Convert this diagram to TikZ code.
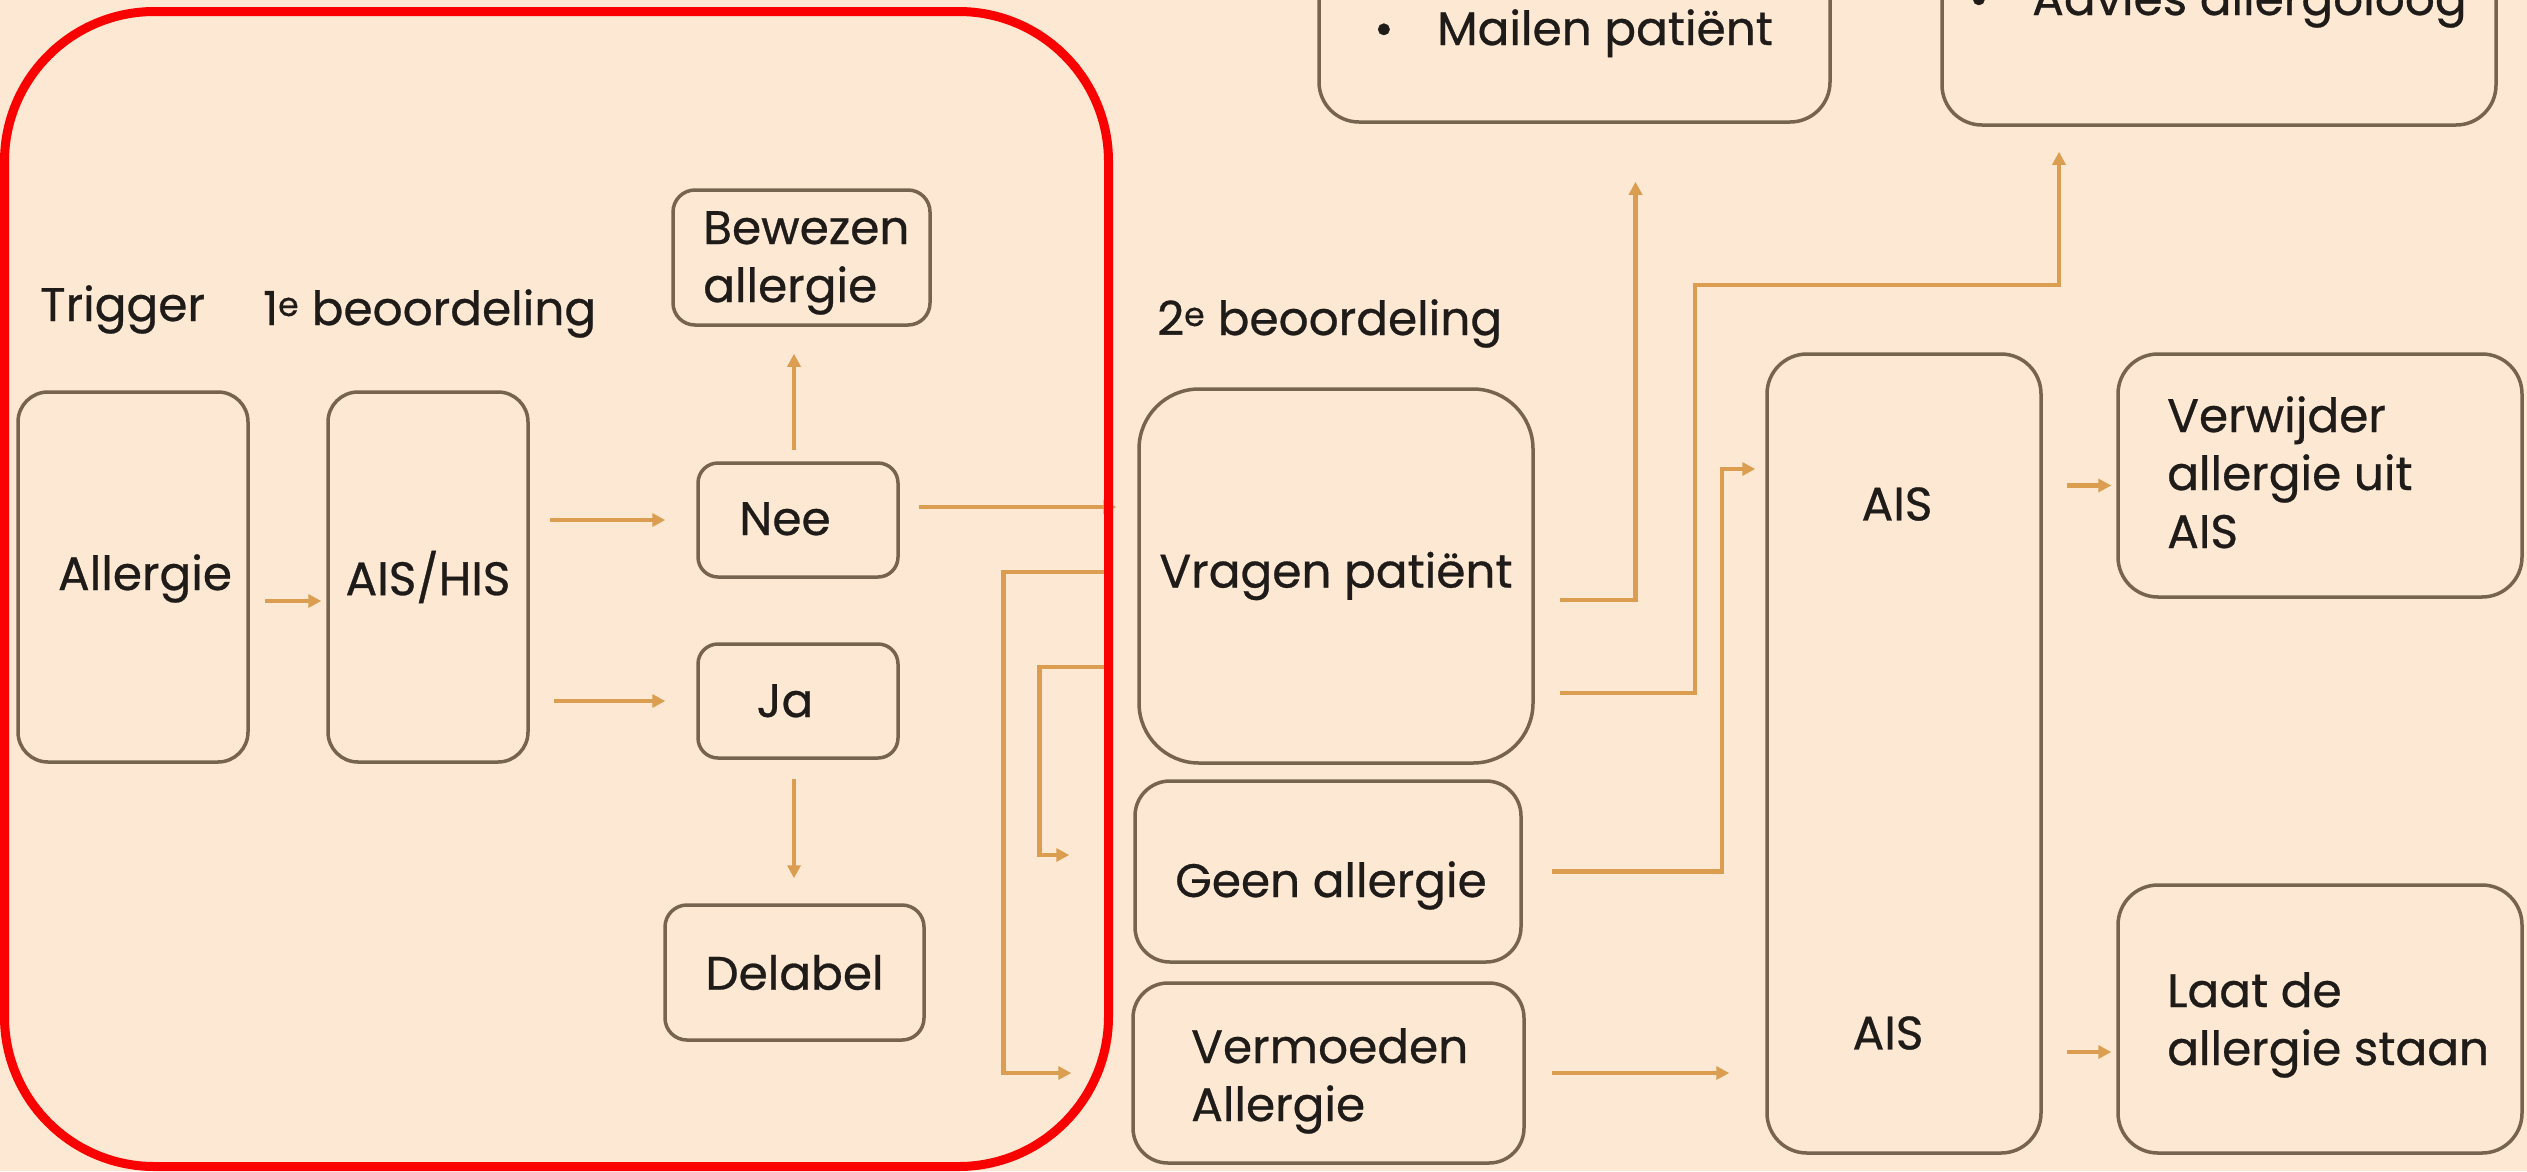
\documentclass[tikz,border=0pt]{standalone}
\usepackage{fontspec}
\setmainfont{Poppins}[FakeBold=0.6]
\usetikzlibrary{arrows.meta,calc}
\definecolor{bgpeach}{HTML}{FCE8D3}
\definecolor{boxline}{HTML}{766450}
\definecolor{connc}{HTML}{DB9E50}
\definecolor{txt}{HTML}{1E1B19}
\definecolor{framered}{HTML}{FA0000}
\newcommand\diafont{\fontsize{47pt}{58pt}\selectfont}
\begin{document}
\begin{tikzpicture}[x=1pt,y=-1pt,
  box/.style={draw=boxline, line width=3.5pt, rounded corners=#1, inner sep=0pt, text=txt, font=\diafont, align=center},
  box/.default=28pt,
  lbl/.style={inner sep=0pt, text=txt, font=\diafont, align=left},
  conn/.style={draw=connc, line width=4.5pt, -{Triangle[length=13pt,width=13pt]}},
]
\useasboundingbox (0,0) rectangle (2527,1171);
\clip (0,0) rectangle (2527,1171);
\fill[bgpeach] (0,0) rectangle (2527,1171);

% boxes
\node[box=30pt, minimum width=230pt, minimum height=370pt] (allergie) at (133,577) {};
\node[box=30pt, minimum width=200pt, minimum height=370pt] (aishis) at (428,577) {AIS/HIS};
\node[box=20pt, minimum width=200pt, minimum height=114pt] (nee) at (798,520) {};
\node[box=20pt, minimum width=200pt, minimum height=114pt] (ja) at (798,701) {};
\node[box=22pt, minimum width=257pt, minimum height=135pt] (bewezen) at (801.5,257.5) {};
\node[box=22pt, minimum width=259pt, minimum height=135pt] (delabel) at (794.5,972.5) {Delabel};
\node[box=60pt, minimum width=394pt, minimum height=374pt] (vragen) at (1336,576) {Vragen patiënt};
\node[box=35pt, minimum width=386pt, minimum height=181pt] (geen) at (1328,871.5) {};
\node[box=35pt, minimum width=391pt, minimum height=180pt] (vermoeden) at (1328.5,1073) {};
\node[box=40pt, minimum width=274pt, minimum height=799pt] (ais) at (1904,753.5) {};
\node[box=40pt, minimum width=404pt, minimum height=243pt] (verwijder) at (2320,475.5) {};
\node[box=40pt, minimum width=404pt, minimum height=268pt] (laat) at (2320,1019) {};
\node[box=40pt, minimum width=511pt, minimum height=300pt] (mailen) at (1574.5,-28) {};
\node[box=40pt, minimum width=554pt, minimum height=300pt] (advies) at (2219,-25) {};

% texts
\node[lbl, anchor=base] (allergiet) at (145,590) {Allergie};
\node[lbl, anchor=base] (neet) at (785,535) {Nee};
\node[lbl, anchor=base] (jat) at (785,717) {Ja};
\node[lbl, anchor=base] (geent) at (1331,897) {Geen allergie};
\node[lbl, anchor=base west] (trigger) at (40,321) {Trigger};
\node[lbl, anchor=base west] (beo1) at (263,325) {1\textsuperscript{e} beoordeling};
\node[lbl, anchor=base west] (beo2) at (1157,335) {2\textsuperscript{e} beoordeling};
\node[lbl, anchor=base west] (bewezent) at (703,302) {Bewezen\\allergie};
\node[lbl, anchor=base west] (vermoedent) at (1191,1121) {Vermoeden\\Allergie};
\node[lbl] (ais1) at (1897,504) {AIS};
\node[lbl] (ais2) at (1888,1033) {AIS};
\node[lbl, anchor=base west] (verwijdert) at (2167,548) {Verwijder\\allergie uit\\AIS};
\node[lbl, anchor=base west] (laatt) at (2167,1065) {Laat de\\allergie staan};
\node[lbl, anchor=base west] (mailent) at (1374,45) {\makebox[63pt][l]{•}Mailen patiënt};
\node[lbl, anchor=base west] (adviest) at (1969,15) {\makebox[63pt][l]{•}Advies allergoloog};

% connectors
\coordinate (bendA) at (1695,285);
\coordinate (bendB) at (1722,469);
\draw[conn, shorten <=15pt, shorten >=5pt] ($(allergie.east)+(0,24)$) -- ($(aishis.west)+(0,24)$);
\draw[conn, shorten <=20pt, shorten >=31pt] (aishis.east |- nee.west) -- (nee.west);
\draw[conn, shorten <=24pt, shorten >=31pt] (aishis.east |- ja.west) -- (ja.west);
\draw[conn, shorten <=11pt, shorten >=27pt] ($(nee.north)+(-4,0)$) -- ($(bewezen.south)+(-7.5,0)$);
\draw[conn, shorten <=19pt, shorten >=25pt] ($(ja.south)+(-4,0)$) -- ($(delabel.north)+(-0.5,0)$);
\draw[conn, shorten <=19pt, shorten >=21pt] ($(nee.east)+(0,-13)$) -- ($(vragen.west)+(0,-69)$);
\draw[conn, shorten <=28pt, shorten >=60pt] ($(vragen.west)+(0,-4)$) -- ++(-134,0) |- (vermoeden.west);
\draw[conn, shorten <=28pt, shorten >=64pt] ($(vragen.west)+(0,91)$) -- ++(-98,0) |- ($(geen.west)+(0,-16.5)$);
\draw[conn, shorten <=25pt, shorten >=58pt] ($(vragen.east)+(0,24)$) -| ($(mailen.south)+(61,0)$);
\draw[conn, shorten <=25pt, shorten >=25pt] ($(vragen.east)+(0,117)$) -| (bendA) -| ($(advies.south)+(-160,0)$);
\draw[conn, shorten <=29pt, shorten >=10pt] (geen.east) -| (bendB) -- (bendB -| ais.west);
\draw[conn, shorten <=26pt, shorten >=36pt] (vermoeden.east) -- (vermoeden.east -| ais.west);
\draw[conn, shorten <=24pt, shorten >=5pt] ($(ais.east |- verwijder.west)+(0,10)$) -- ($(verwijder.west)+(0,10)$);
\draw[conn, shorten <=24pt, shorten >=5pt] ($(ais.east |- laat.west)+(0,33)$) -- ($(laat.west)+(0,33)$);

% red frame
\draw[framered, line width=9pt, rounded corners=150pt] (4.5,11.5) rectangle (1108.5,1166.5);
\end{tikzpicture}
\end{document}
